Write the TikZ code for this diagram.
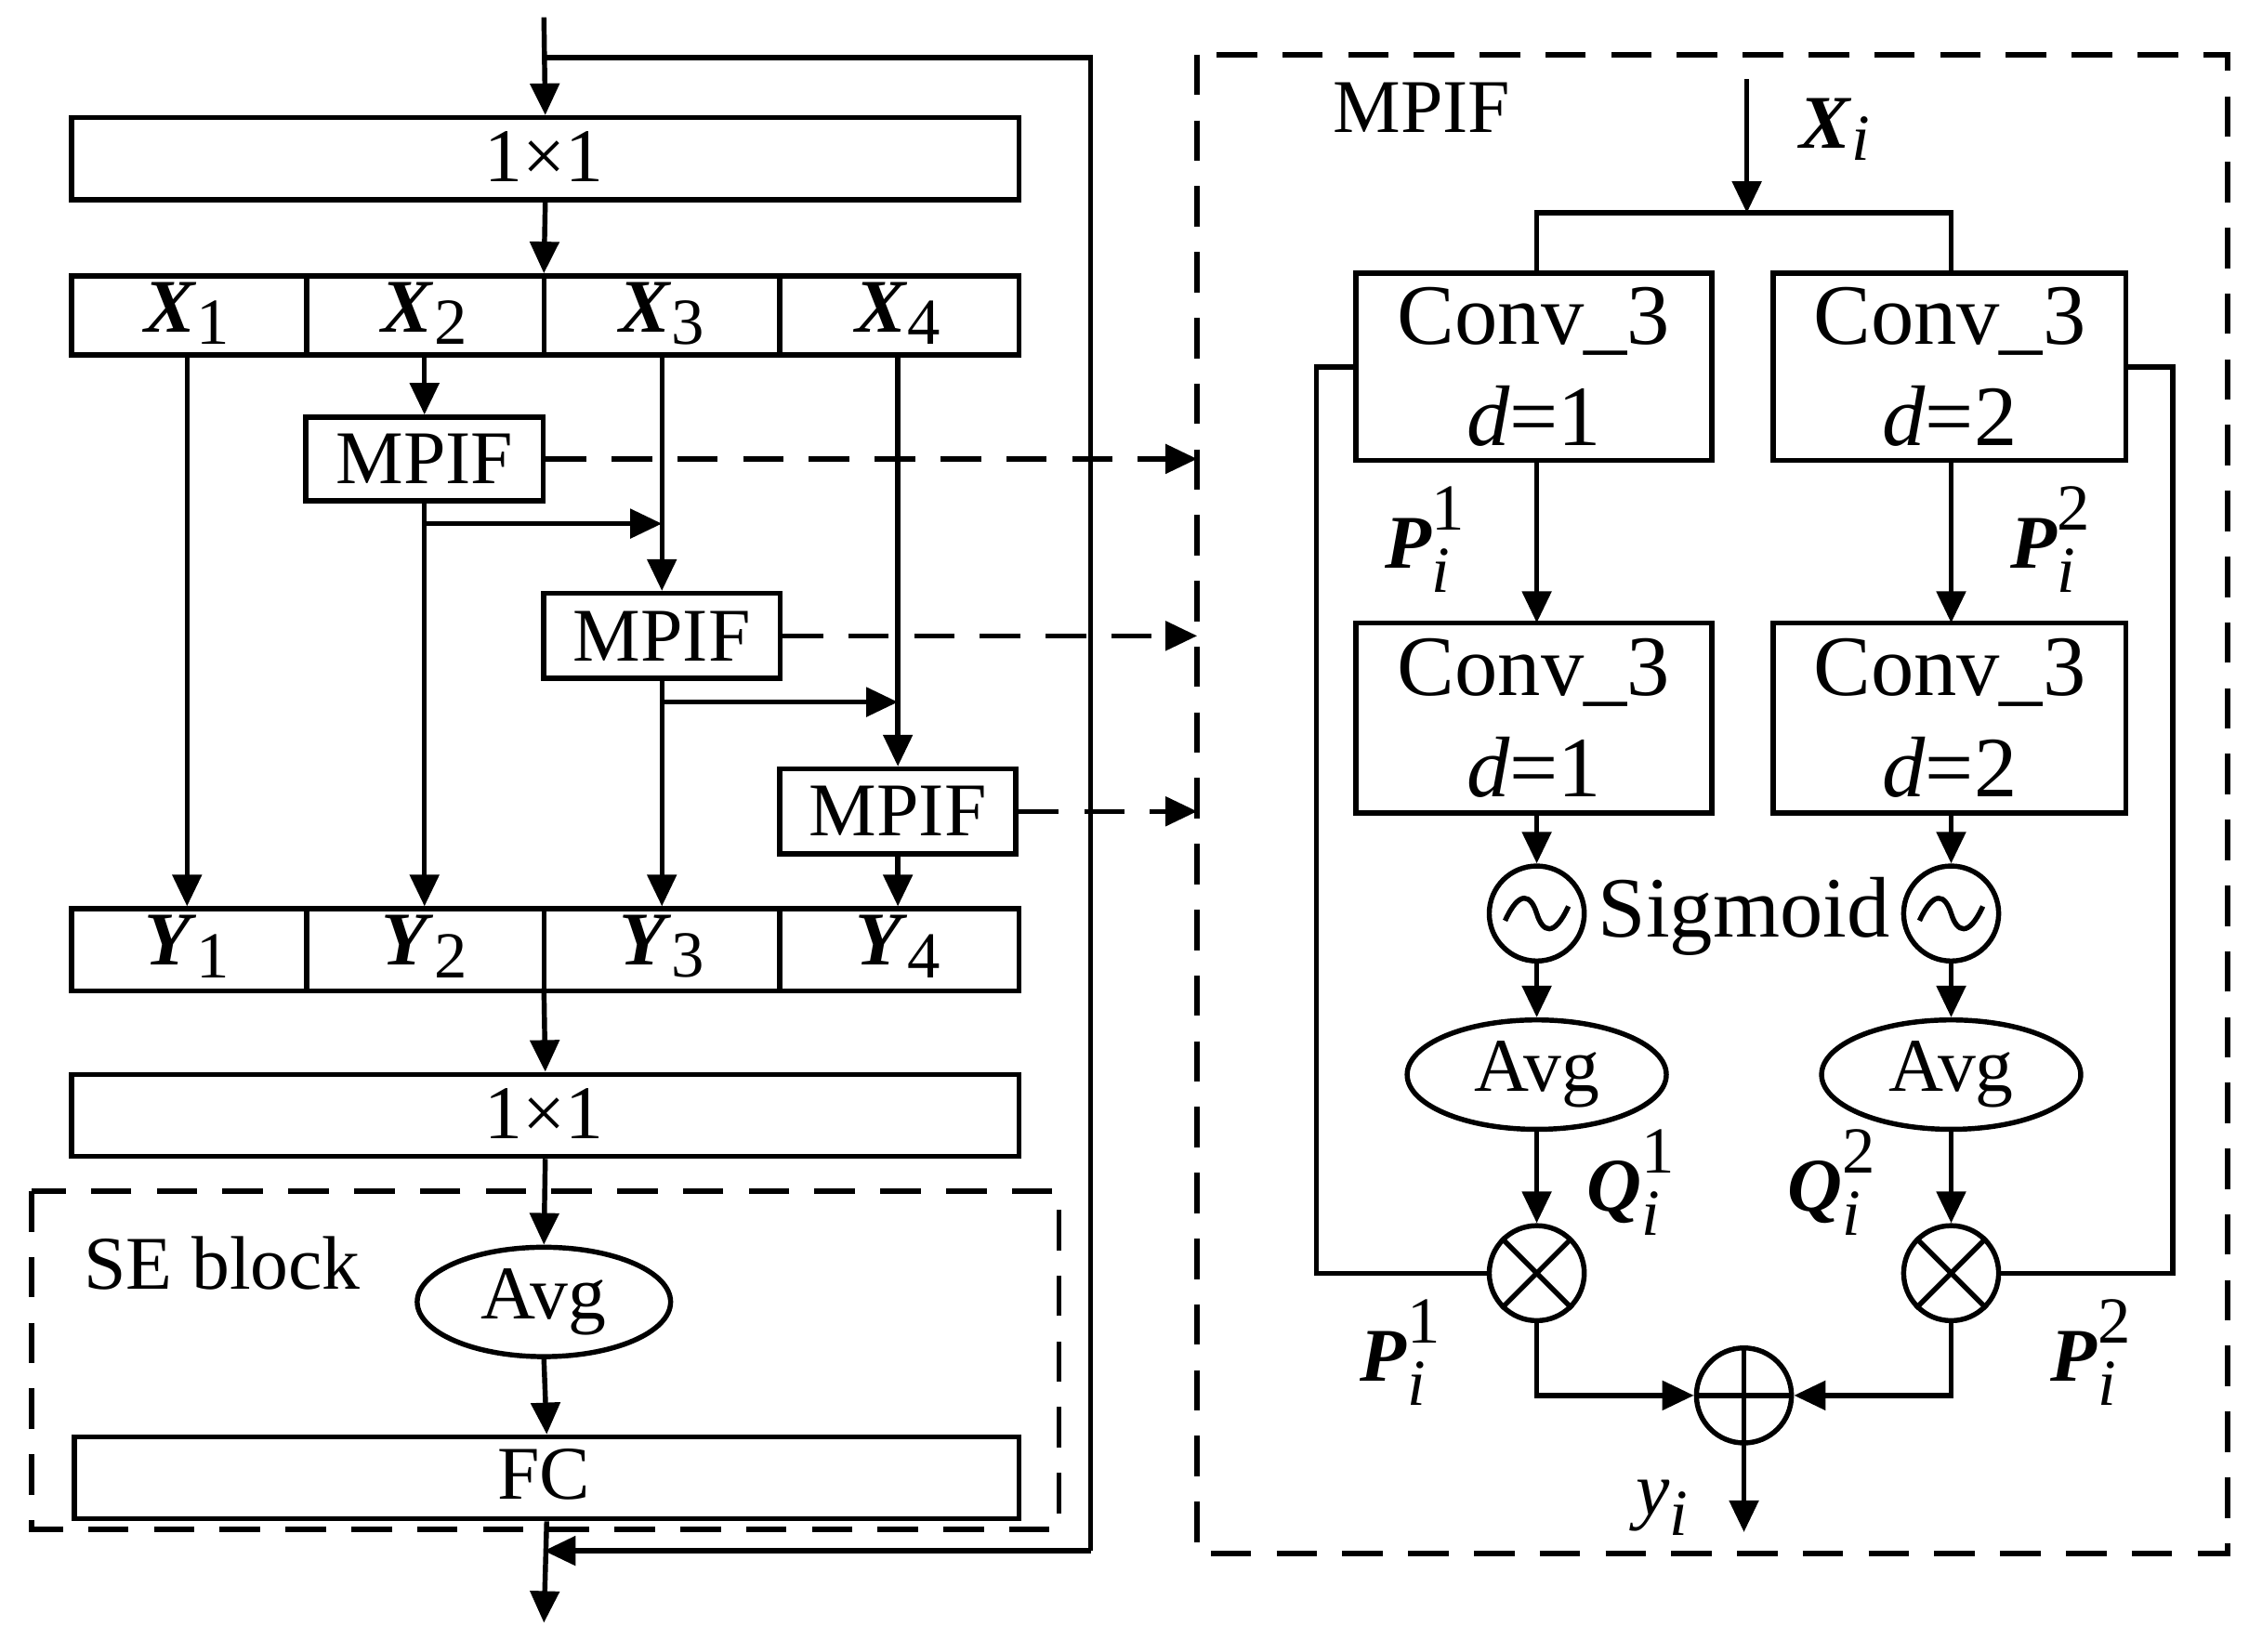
\documentclass[tikz,border=0pt]{standalone}
\usepackage{fontspec}
\setmainfont{Liberation Serif}
\usetikzlibrary{arrows.meta,shapes.geometric}
\newcommand{\bi}[1]{\textbf{\textit{#1}}}
\newcommand{\sx}[2]{\bi{#1}\raisebox{-0.35ex}{\fontsize{13}{13}\selectfont #2}}
\newcommand{\pq}[2]{\bi{#1}\rlap{\raisebox{1.1ex}{\fontsize{13}{13}\selectfont #2}}\raisebox{-0.7ex}{\fontsize{13}{13}\selectfont\itshape i}}
\begin{document}
\begin{tikzpicture}[x=0.01cm,y=-0.01cm,line width=1pt,
 font=\fontsize{15}{18}\selectfont,
 tip/.style={-{Triangle[length=0.22cm,width=0.2cm]}},
 box/.style={draw,inner sep=0pt},
 ell/.style={draw,ellipse,inner sep=0pt},
 dsh/.style={dash pattern=on 8pt off 5pt}]
\useasboundingbox (0,0) rectangle (1563,1148);
% left column
\node[box,anchor=north west,minimum width=6.58cm,minimum height=0.57cm] (c1) at (48,80) {};
\node at (378,109) {1×1};
\node[box,anchor=north west,minimum width=6.58cm,minimum height=0.55cm] (xb) at (48,190) {};
\foreach \x in {213,378,542} \draw (\x,190) -- (\x,245);
\node at (130,218) {\sx{X}{1}}; \node at (295,218) {\sx{X}{2}};
\node at (460,218) {\sx{X}{3}}; \node at (624,218) {\sx{X}{4}};
\coordinate (top) at (378,12);
\coordinate (br) at (378,40);
\draw[tip] (top) -- (c1.north);
\draw (br) -| (758,1078) coordinate (rb);
\draw[tip] (c1.south) -- (378,190);
\node[box,minimum width=1.65cm,minimum height=0.58cm] (m1) at (295,319) {MPIF};
\node[box,minimum width=1.64cm,minimum height=0.59cm] (m2) at (460,442) {MPIF};
\node[box,minimum width=1.64cm,minimum height=0.59cm] (m3) at (624,564) {MPIF};
\node[box,anchor=north west,minimum width=6.58cm,minimum height=0.57cm] (yb) at (48,630) {};
\foreach \x in {213,378,542} \draw (\x,630) -- (\x,687);
\node at (130,658) {\sx{Y}{1}}; \node at (295,658) {\sx{Y}{2}};
\node at (460,658) {\sx{Y}{3}}; \node at (624,658) {\sx{Y}{4}};
\draw[tip] (130,245) -- (130,630);
\draw[tip] (295,245) -- (m1.north);
\draw[tip] (m1.south) -- (295,630);
\draw[tip] (295,364) -- (460,364);
\draw[tip] (460,245) -- (m2.north);
\draw[tip] (m2.south) -- (460,630);
\draw[tip] (460,488) -- (624,488);
\draw[tip] (624,245) -- (m3.north);
\draw[tip] (m3.south) -- (624,630);
\draw[tip,dsh] (m1.east) -- (832,319);
\draw[tip,dsh] (m2.east) -- (832,442);
\draw[tip,dsh] (m3.east) -- (832,564);
\node[box,anchor=north west,minimum width=6.58cm,minimum height=0.57cm] (c2) at (48,745) {};
\node at (378,774) {1×1};
\draw[tip] (378,687) -- (c2.north);
\draw[dsh] (22,828) rectangle (736,1063);
\node[anchor=west] at (45,878) {SE block};
\node[ell,minimum width=1.76cm,minimum height=0.76cm] (a0) at (378,905) {Avg};
\draw[tip] (c2.south) -- (a0.north);
\node[box,anchor=north west,minimum width=6.56cm,minimum height=0.57cm] (fc) at (50,997) {};
\node at (378,1025) {FC};
\draw[tip] (a0.south) -- (fc.north);
\draw[tip] (fc.south) -- (378,1128);
\draw[tip] (rb) -- (378,1078);
% right panel
\draw[dsh] (832,38) rectangle (1548,1080);
\node at (988,75) {MPIF};
\draw[tip] (1214,55) -- (1214,148);
\node at (1275,90) {\sx{X}{\itshape i}};
\draw (1068,190) -- (1068,148) -- (1356,148) -- (1356,190);
\begin{scope}[font=\fontsize{17}{20}\selectfont]
\node[box,minimum width=2.47cm,minimum height=1.3cm,align=center] (a1) at (1066,255) {Conv\_3\\\textit{d}=1};
\node[box,minimum width=2.45cm,minimum height=1.3cm,align=center] (b1) at (1355,255) {Conv\_3\\\textit{d}=2};
\node[box,minimum width=2.47cm,minimum height=1.32cm,align=center] (a2) at (1066,499) {Conv\_3\\\textit{d}=1};
\node[box,minimum width=2.45cm,minimum height=1.32cm,align=center] (b2) at (1355,499) {Conv\_3\\\textit{d}=2};
\node at (1212,637) {Sigmoid};
\end{scope}
\draw[tip] (1068,320) -- (1068,433);
\draw[tip] (1356,320) -- (1356,433);
\node at (985,375) {\pq{P}{1}};
\node at (1420,375) {\pq{P}{2}};
\foreach \x/\n in {1068/a,1356/b}{
 \node[draw,circle,minimum size=0.66cm,inner sep=0pt] (s\n) at (\x,635) {};
 \draw (\x-22,640) .. controls (\x-12,618) and (\x-4,622) .. (\x,635) .. controls (\x+4,648) and (\x+12,652) .. (\x+22,630);
 \draw[tip] (\x,565) -- (s\n.north);
 \node[ell,minimum width=1.8cm,minimum height=0.76cm] (v\n) at (\x,747) {Avg};
 \draw[tip] (s\n.south) -- (v\n.north);
 \node[draw,circle,minimum size=0.66cm,inner sep=0pt] (o\n) at (\x,885) {};
 \draw (o\n.north west) -- (o\n.south east) (o\n.north east) -- (o\n.south west);
 \draw[tip] (v\n.south) -- (o\n.north);
}
\node at (1128,822) {\pq{Q}{1}};
\node at (1268,822) {\pq{Q}{2}};
\draw (943,255) -- (915,255) -- (915,885) -- (oa.west);
\draw (1478,255) -- (1510,255) -- (1510,885) -- (ob.east);
\node at (968,940) {\pq{P}{1}};
\node at (1448,940) {\pq{P}{2}};
\node[draw,circle,minimum size=0.66cm,inner sep=0pt] (sum) at (1212,970) {};
\draw (sum.north) -- (sum.south) (sum.west) -- (sum.east);
\draw[tip] (oa.south) |- (sum.west);
\draw[tip] (ob.south) |- (sum.east);
\draw[tip] (sum.south) -- (1212,1065);
\node at (1155,1048) {\textit{y}\raisebox{-0.6ex}{\fontsize{13}{13}\selectfont\itshape i}};
\end{tikzpicture}
\end{document}
